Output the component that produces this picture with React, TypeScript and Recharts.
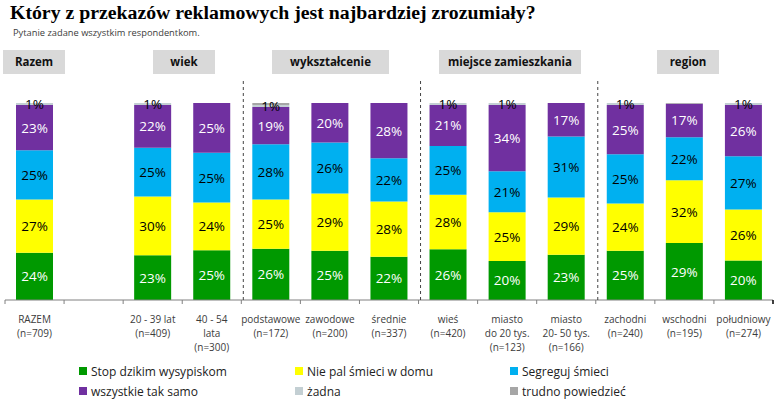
import React from 'react';
import { BarChart, Bar, XAxis, YAxis, LabelList } from 'recharts';

// categories (line breaks = tick label lines)
const categories = [
  'RAZEM\n(n=709)',
  ' ',
  '20 - 39 lat\n(n=409)',
  '40 - 54\nlata\n(n=300)',
  'podstawowe\n(n=172)',
  'zawodowe\n(n=200)',
  'średnie\n(n=337)',
  'wieś\n(n=420)',
  'miasto\ndo 20 tys.\n(n=123)',
  'miasto\n20- 50 tys.\n(n=166)',
  'zachodni\n(n=240)',
  'wschodni\n(n=195)',
  'południowy\n(n=274)',
];

const stopDzikim = [24, null, 23, 25, 26, 25, 22, 26, 20, 23, 25, 29, 20];
const niePal = [27, null, 30, 24, 25, 29, 28, 28, 25, 29, 24, 32, 26];
const segreguj = [25, null, 25, 25, 28, 26, 22, 25, 21, 31, 25, 22, 27];
const wszystkie = [23, null, 22, 25, 19, 20, 28, 21, 34, 17, 25, 17, 26];
const zadna = [1, null, 1, 0, 1, 0, 0, 1, 1, 0, 1, 0, 1];
const trudno = [0, null, 0, 0, 1, 0, 0, 0, 0, 0, 0, 0.4, 0];

const groupHeaders = ['Razem', 'wiek', 'wykształcenie', 'miejsce zamieszkania', 'region'];
const separatorBefore = [4, 7, 10];

const series = [
  { key: 'stop', name: 'Stop dzikim wysypiskom', color: '#009900', text: '#ffffff', values: stopDzikim },
  { key: 'niePal', name: 'Nie pal śmieci w domu', color: '#ffff00', text: '#000000', values: niePal },
  { key: 'segreguj', name: 'Segreguj śmieci', color: '#00b0f0', text: '#000000', values: segreguj },
  { key: 'wszystkie', name: 'wszystkie tak samo', color: '#7030a0', text: '#ffffff', values: wszystkie },
  { key: 'zadna', name: 'żadna', color: '#c3cfd3', text: '#000000', values: zadna },
  { key: 'trudno', name: 'trudno powiedzieć', color: '#a6a6a6', text: '#000000', values: trudno },
];

const data = categories.map((cat, i) => {
  const row: any = { cat };
  series.forEach((s) => (row[s.key] = s.values[i]));
  return row;
});

const W = 783;
const H = 408;
const M = { top: 103, right: 10, left: 5, bottom: 48 };
const AXIS_H = 60;
const SLOT = (W - M.left - M.right) / categories.length;
const FONT = '"Open Sans", Calibri, sans-serif';

const makeLabel = (fill: string, skipTrudno: boolean) => (props: any) => {
  const { x, y, width, height, value } = props;
  if (value == null || value < 1 || skipTrudno) return null;
  return (
    <text
      x={x + width / 2}
      y={y + height / 2}
      fill={fill}
      textAnchor="middle"
      dominantBaseline="central"
      fontSize={13.5}
      fontFamily={FONT}
    >
      {value}%
    </text>
  );
};

const CategoryTick = (props: any) => {
  const { x, y, payload, index } = props;
  const lines = String(payload.value).split('\n');
  const left = x - SLOT / 2;
  return (
    <g>
      <line x1={left} x2={left} y1={y} y2={y + 4} stroke="#808080" />
      {index === categories.length - 1 && (
        <line x1={x + SLOT / 2} x2={x + SLOT / 2} y1={y} y2={y + 4} stroke="#000" strokeWidth={1.5} />
      )}
      {separatorBefore.includes(index) && (
        <line x1={left + 2} x2={left + 2} y1={y} y2={80} stroke="#444" strokeDasharray="3 3" />
      )}
      <text x={x} y={y + 23} textAnchor="middle" fontSize={10} fill="#3c3c3c" fontFamily={FONT}>
        {lines.map((l, i) => (
          <tspan key={i} x={x} dy={i === 0 ? 0 : 14}>
            {l}
          </tspan>
        ))}
      </text>
    </g>
  );
};

const headerBoxes = [
  { left: 3, width: 62 },
  { left: 153, width: 62 },
  { left: 272, width: 117 },
  { left: 439, width: 142 },
  { left: 657, width: 62 },
];

const legendPos = [
  { left: 79, top: 364 },
  { left: 295, top: 364 },
  { left: 510, top: 364 },
  { left: 79, top: 384 },
  { left: 295, top: 384 },
  { left: 510, top: 384 },
];

export default function App() {
  return (
    <div
      style={{
        position: 'absolute',
        left: 0,
        top: 0,
        width: W,
        height: H,
        background: '#fff',
        overflow: 'hidden',
        fontFamily: FONT,
      }}
    >
      <div
        style={{
          position: 'absolute',
          left: 10,
          top: 1,
          fontFamily: '"Liberation Serif", "Times New Roman", serif',
          fontWeight: 'bold',
          fontSize: 19.8,
          lineHeight: '22px',
          color: '#000',
          whiteSpace: 'nowrap',
        }}
      >
        Który z przekazów reklamowych jest najbardziej zrozumiały?
      </div>
      <div
        style={{
          position: 'absolute',
          left: 13,
          top: 27,
          fontSize: 9.3,
          lineHeight: '12px',
          color: '#3c3c3c',
          whiteSpace: 'nowrap',
        }}
      >
        Pytanie zadane wszystkim respondentkom.
      </div>
      {groupHeaders.map((g, i) => (
        <div
          key={g}
          style={{
            position: 'absolute',
            left: headerBoxes[i].left,
            width: headerBoxes[i].width,
            top: 50,
            height: 24,
            lineHeight: '24px',
            background: '#d9d9d9',
            textAlign: 'center',
            fontWeight: 'bold',
            fontSize: 11.5,
            color: '#111',
            whiteSpace: 'nowrap',
          }}
        >
          {g}
        </div>
      ))}
      <div style={{ position: 'absolute', left: 0, top: 0 }}>
        <BarChart width={W} height={H} data={data} margin={M} stackOffset="expand" barSize={37}>
          <XAxis
            dataKey="cat"
            interval={0}
            height={AXIS_H}
            tickSize={0}
            tickMargin={0}
            tickLine={false}
            axisLine={{ stroke: '#808080' }}
            tick={<CategoryTick />}
          />
          <YAxis hide />
          {series.map((s) => (
            <Bar key={s.key} dataKey={s.key} name={s.name} stackId="a" fill={s.color} isAnimationActive={false}>
              <LabelList dataKey={s.key} content={makeLabel(s.text, s.key === 'trudno')} />
            </Bar>
          ))}
        </BarChart>
      </div>
      {series.map((s, i) => (
        <div
          key={s.key}
          style={{
            position: 'absolute',
            left: legendPos[i].left,
            top: legendPos[i].top,
            height: 14,
            display: 'flex',
            alignItems: 'center',
            fontSize: 12,
            color: '#222',
            whiteSpace: 'nowrap',
          }}
        >
          <span style={{ display: 'inline-block', width: 8, height: 8, background: s.color, marginRight: 4 }} />
          {s.name}
        </div>
      ))}
    </div>
  );
}
